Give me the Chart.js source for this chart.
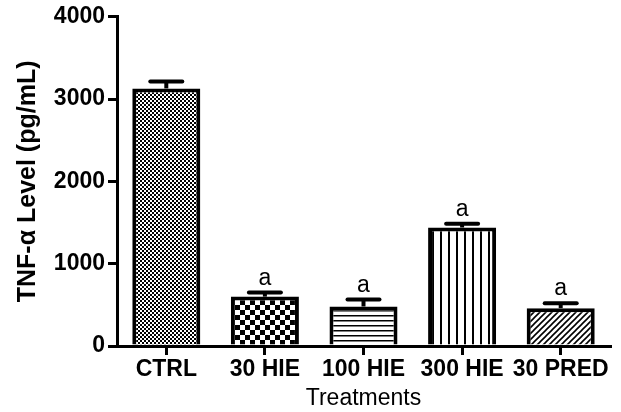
<!DOCTYPE html>
<html><head><meta charset="utf-8">
<script src="https://cdn.jsdelivr.net/npm/chart.js@4/dist/chart.umd.min.js"></script>
<style>html,body{margin:0;padding:0;background:#fff;}#wrap{width:621px;height:412px;position:relative;}</style>
</head><body><div id="wrap"><canvas id="c" width="621" height="412"></canvas></div>
<script>
const categories = ['CTRL', '30 HIE', '100 HIE', '300 HIE', '30 PRED'];
const tnfValues = [3130, 600, 480, 1440, 460];
const tnfErrors = [85, 50, 85, 45, 60];
const sigLabels = ['', 'a', 'a', 'a', 'a'];
const yTicks = [0, 1000, 2000, 3000, 4000];

function makePattern(kind) {
  const c = document.createElement('canvas');
  const x = c.getContext('2d');
  let s;
  if (kind === 'fine') {
    s = 4; c.width = s; c.height = s;
    x.fillStyle = '#fff'; x.fillRect(0,0,s,s);
    x.fillStyle = '#000'; x.fillRect(0,0,2,2); x.fillRect(2,2,2,2);
  } else if (kind === 'coarse') {
    s = 10; c.width = s; c.height = s;
    x.fillStyle = '#fff'; x.fillRect(0,0,s,s);
    x.fillStyle = '#000'; x.fillRect(0,0,5,5); x.fillRect(5,5,5,5);
  } else if (kind === 'hlines') {
    s = 5; c.width = s; c.height = s;
    x.fillStyle = '#fff'; x.fillRect(0,0,s,s);
    x.fillStyle = '#000'; x.fillRect(0,0,s,1.5);
  } else if (kind === 'vlines') {
    s = 8; c.width = s; c.height = s;
    x.fillStyle = '#fff'; x.fillRect(0,0,s,s);
    x.fillStyle = '#000'; x.fillRect(0,0,2,s);
  } else {
    s = 6; c.width = s; c.height = s;
    x.fillStyle = '#fff'; x.fillRect(0,0,s,s);
    x.strokeStyle = '#000'; x.lineWidth = 1.6;
    x.beginPath();
    x.moveTo(-1, s+1); x.lineTo(s+1, -1);
    x.moveTo(-1, 1); x.lineTo(1, -1);
    x.moveTo(s-1, s+1); x.lineTo(s+1, s-1);
    x.stroke();
  }
  return x.createPattern(c, 'repeat');
}
const patterns = ['fine','coarse','hlines','vlines','diag'].map(makePattern);

const FONT = "'Liberation Sans', Arial, sans-serif";

const errorPlugin = {
  id: 'errs',
  afterDatasetsDraw(chart) {
    const ctx = chart.ctx;
    const meta = chart.getDatasetMeta(0);
    const ys = chart.scales.y;
    ctx.save();
    ctx.strokeStyle = '#000';
    ctx.lineWidth = 4;
    meta.data.forEach((bar, i) => {
      const yTop = ys.getPixelForValue(tnfValues[i] + tnfErrors[i]);
      const yBar = ys.getPixelForValue(tnfValues[i]);
      ctx.lineCap = 'butt';
      ctx.beginPath();
      ctx.moveTo(bar.x, yBar); ctx.lineTo(bar.x, yTop);
      ctx.stroke();
      ctx.lineCap = 'round';
      ctx.beginPath();
      ctx.moveTo(bar.x - 16, yTop); ctx.lineTo(bar.x + 16, yTop);
      ctx.stroke();
      if (sigLabels[i]) {
        ctx.fillStyle = '#000';
        ctx.font = "23px " + FONT;
        ctx.textAlign = 'center';
        ctx.textBaseline = 'alphabetic';
        ctx.fillText(sigLabels[i], bar.x, yTop - 8);
      }
    });
    ctx.restore();
  }
};

new Chart(document.getElementById('c'), {
  type: 'bar',
  data: {
    labels: categories,
    datasets: [{
      data: tnfValues,
      backgroundColor: patterns,
      borderColor: '#000',
      borderWidth: 4,
      borderSkipped: 'start',
      barPercentage: 0.69,
      categoryPercentage: 1.0
    }]
  },
  options: {
    responsive: false,
    animation: false,
    devicePixelRatio: 1,
    layout: { padding: { top: 10, right: 11, left: 0, bottom: 0 } },
    plugins: { legend: { display: false }, tooltip: { enabled: false } },
    scales: {
      x: {
        grid: { display: true, drawOnChartArea: false, offset: false, color: '#000', lineWidth: 3, tickLength: 9, tickWidth: 3, tickColor: '#000' },
        border: { display: true, color: '#000', width: 3 },
        ticks: { color: '#000', font: { family: FONT, size: 23, weight: 'bold' }, padding: 1, maxRotation: 0, autoSkip: false },
        title: { display: true, text: 'Treatments', color: '#000', font: { family: FONT, size: 23, weight: 'normal' }, padding: { top: 0, bottom: 0 } },
        afterFit(s) { s.height = 66; }
      },
      y: {
        min: 0, max: 4000,
        afterBuildTicks(s) { s.ticks = yTicks.map(v => ({ value: v })); },
        grid: { display: true, drawOnChartArea: false, color: '#000', lineWidth: 3, tickLength: 9, tickWidth: 3, tickColor: '#000' },
        border: { display: true, color: '#000', width: 3 },
        ticks: { color: '#000', font: { family: FONT, size: 23, weight: 'bold' }, padding: 3, callback: v => String(v) },
        title: { display: true, text: 'TNF-α Level (pg/mL)', color: '#000', font: { family: FONT, size: 25, weight: 'bold' }, padding: { top: 13, bottom: 0 } },
        afterFit(s) { s.width = 117; }
      }
    }
  },
  plugins: [errorPlugin]
});
</script>
</body></html>
